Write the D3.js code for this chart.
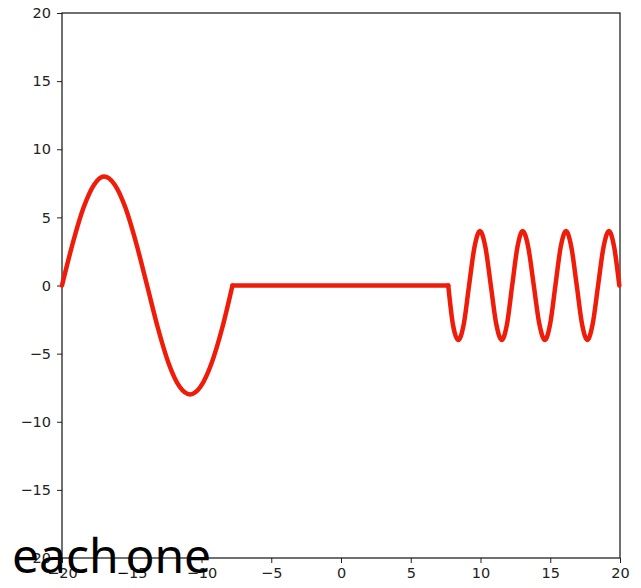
<!DOCTYPE html>
<html>
<head>
<meta charset="utf-8">
<script src="https://cdn.jsdelivr.net/npm/d3@7"></script>
<style>
  html, body { margin: 0; padding: 0; background: #ffffff; }
  svg { display: block; }
</style>
</head>
<body>
<svg id="chart" width="641" height="588"></svg>
<script>
// Left wave: amplitude 8, one full period starting at x = -20
const leftX = [-20, -19.23, -18.46, -17.7, -16.99, -16.22, -15.45, -14.68, -13.9,
               -13.13, -12.36, -11.59, -10.82, -10.05, -9.28, -8.51, -7.78];
const leftY = [0, 3.1, 5.7, 7.4, 8, 7.4, 5.7, 3.1, 0,
               -3.1, -5.7, -7.4, -8, -7.4, -5.7, -3.1, 0];

// Flat section between the two waves
const flatX = [-7.78, 7.69];
const flatY = [0, 0];

// Right wave: amplitude 4, four short periods ending at x = 20
const rightX = [7.69, 8.03, 8.41, 8.80, 9.18, 9.57, 9.96, 10.35, 10.74, 11.13, 11.52,
                11.90, 12.27, 12.65, 13.02, 13.42, 13.82, 14.22, 14.62, 14.99, 15.37,
                15.75, 16.13, 16.51, 16.90, 17.28, 17.66, 18.04, 18.43, 18.82, 19.21,
                19.58, 19.95];
const rightY = [0, -2.9, -4, -2.83, 0, 2.83, 4, 2.83, 0, -2.83, -4,
                -2.83, 0, 2.83, 4, 2.83, 0, -2.83, -4, -2.83, 0,
                2.83, 4, 2.83, 0, -2.83, -4, -2.83, 0, 2.83, 4,
                2.83, 0];

const xTicks = [-20, -15, -10, -5, 0, 5, 10, 15, 20];
const yTicks = [-20, -15, -10, -5, 0, 5, 10, 15, 20];
const captionParts = ["each", "_", "one"];

const W = 641, H = 588;
const margin = { top: 13, right: 21, bottom: 30, left: 62 };

const svg = d3.select("#chart");

const x = d3.scaleLinear().domain([-20, 20]).range([margin.left, W - margin.right]);
const y = d3.scaleLinear().domain([-20, 20]).range([H - margin.bottom, margin.top]);

const fmt = d => d3.format("d")(d).replace("-", "\u2212");

// x axis
const gx = svg.append("g")
  .attr("transform", `translate(0,${H - margin.bottom})`)
  .call(d3.axisBottom(x).tickValues(xTicks).tickFormat(fmt).tickSize(5).tickPadding(5));

// y axis
const gy = svg.append("g")
  .attr("transform", `translate(${margin.left},0)`)
  .call(d3.axisLeft(y).tickValues(yTicks).tickFormat(fmt).tickSize(5).tickPadding(6));

[gx, gy].forEach(g => {
  g.select(".domain").remove();
  g.selectAll(".tick line").attr("stroke", "#222").attr("stroke-width", 1);
  g.selectAll(".tick text")
    .attr("fill", "#222")
    .style("font-family", "'DejaVu Sans', sans-serif")
    .style("font-size", "14.5px");
});

// frame
svg.append("rect")
  .attr("x", x(-20)).attr("y", y(20))
  .attr("width", x(20) - x(-20)).attr("height", y(-20) - y(20))
  .attr("fill", "none").attr("stroke", "#111").attr("stroke-width", 1.2);

// curve pieces
const pieces = [
  { xs: leftX, ys: leftY, curve: d3.curveMonotoneX },
  { xs: flatX, ys: flatY, curve: d3.curveLinear },
  { xs: rightX, ys: rightY, curve: d3.curveMonotoneX }
];

pieces.forEach(p => {
  const pts = p.xs.map((v, i) => [v, p.ys[i]]);
  const line = d3.line().x(d => x(d[0])).y(d => y(d[1])).curve(p.curve);
  svg.append("path")
    .datum(pts)
    .attr("d", line)
    .attr("fill", "none")
    .attr("stroke", "#f01c0a")
    .attr("stroke-width", 4.5)
    .attr("stroke-linejoin", "round")
    .attr("stroke-linecap", "round");
});

// caption: the joining underscore is set small so it sits on the baseline
const cap = svg.append("text")
  .attr("x", 12)
  .attr("y", 573)
  .attr("fill", "#000")
  .style("font-family", "'Noto Sans', sans-serif")
  .style("font-size", "48px");
cap.append("tspan").text(captionParts[0]);
cap.append("tspan").style("font-size", "15px").attr("dy", -1).text(captionParts[1]);
cap.append("tspan").attr("dy", 1).text(captionParts[2]);
</script>
</body>
</html>
